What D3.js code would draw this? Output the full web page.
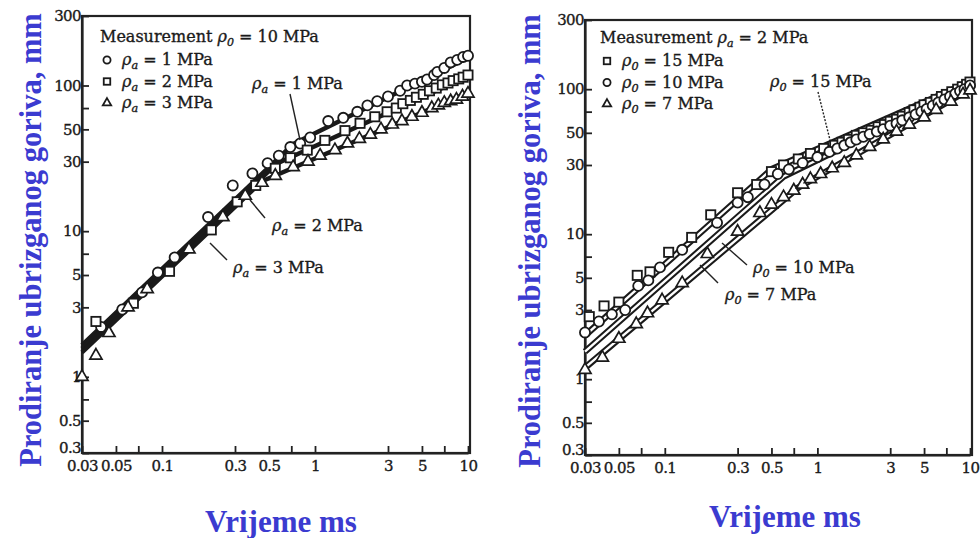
<!DOCTYPE html>
<html><head><meta charset="utf-8">
<script src="https://cdn.jsdelivr.net/npm/d3@7"></script>
<style>html,body{margin:0;padding:0;background:#fff;} svg{display:block;}</style>
</head><body>
<svg id="chart" width="980" height="538"></svg>
<script>
// ---------- data ----------
const xTicks = [0.03,0.05,0.07,0.1,0.3,0.5,0.7,1,3,5,7,10];
const xTickLabels = ["0.03","0.05","","0.1","0.3","0.5","","1","3","5","","10"];
const yTicks = [0.3,0.5,0.7,1,3,5,7,10,30,50,70,100,300];
const yTickLabels = ["0.3","0.5","","1","3","5","","10","30","50","","100","300"];

// Left panel: measurement p0 = 10 MPa, series by pa
const leftPa1 = [[0.04,2.2],[0.055,2.9],[0.074,3.8],[0.094,5.2],[0.121,6.6],[0.2,12.5],[0.29,20.6],[0.39,24.9],[0.49,29.3],[0.58,33],[0.69,37.8],[0.8,40],[0.93,44],[1.22,57],[1.53,60],[1.89,66],[2.2,73],[2.55,78],[3,84],[3.6,92],[4,100],[4.5,103],[5,106],[5.4,110],[6,118],[6.3,124],[7,132],[7.7,144],[8.5,150],[9.3,157],[10,160]];
const leftPa2 = [[0.037,2.4],[0.065,3.2],[0.112,5.3],[0.21,10.2],[0.31,15.9],[0.41,20.6],[0.55,27],[0.69,31.9],[0.89,36],[1.16,42],[1.57,49],[1.97,55],[2.46,61],[2.96,66],[3.4,70],[3.75,75],[4.2,79],[4.6,83],[5.1,87],[5.6,92],[6.2,96],[6.8,101],[7.4,104],[8,108],[8.7,111],[9.3,114],[10,118]];
const leftPa3 = [[0.03,1.0],[0.037,1.4],[0.045,2.0],[0.06,3.0],[0.08,4.0],[0.15,7.5],[0.25,12.5],[0.35,17.5],[0.45,21.5],[0.55,24],[0.72,27.5],[0.9,30],[1.08,33],[1.35,36],[1.63,40],[1.95,43],[2.3,46],[2.7,50],[3.2,54],[3.7,57],[4.3,61],[5,65],[5.8,70],[6.4,73],[7,76],[7.7,78],[8.4,80],[9.2,84],[10,88]];
const leftLine1 = [[0.03,1.65],[0.72,39.6],[10,155]];
const leftLine2 = [[0.03,1.56],[0.56,29],[10,116]];
const leftLine3 = [[0.03,1.47],[0.45,22],[10,89]];

// Right panel: measurement pa = 2 MPa, series by p0
const rightP15 = [[0.032,2.7],[0.04,3.2],[0.05,3.4],[0.066,5.2],[0.08,5.5],[0.106,7.5],[0.15,9.5],[0.2,13.6],[0.3,19.3],[0.4,22],[0.5,27],[0.6,30],[0.75,33],[0.9,36],[1.1,39],[1.3,41],[1.45,43],[1.6,45],[1.8,48],[2,50],[2.25,52],[2.5,55],[2.75,57],[3,60],[3.3,62],[3.6,65],[4,69],[4.3,72],[4.7,75],[5,78],[5.5,81],[6,85],[6.5,89],[7,92],[7.6,96],[8.3,100],[8.9,104],[9.5,108],[10,112]];
const rightP10 = [[0.03,2.1],[0.037,2.5],[0.045,2.8],[0.055,3.0],[0.067,4.4],[0.078,4.8],[0.093,5.9],[0.13,7.8],[0.22,12],[0.3,16.5],[0.35,18],[0.45,22],[0.55,26],[0.65,28],[0.8,31],[1,34],[1.2,37],[1.35,39],[1.5,41],[1.65,43],[1.8,45],[2,47],[2.2,49],[2.45,51],[2.7,53],[3,56],[3.3,58],[3.6,61],[4,64],[4.4,67],[4.8,70],[5.2,73],[5.7,77],[6.2,81],[6.8,85],[7.4,89],[8,93],[8.6,97],[9.2,100],[10,106]];
const rightP7 = [[0.03,1.16],[0.039,1.41],[0.05,1.9],[0.065,2.4],[0.077,2.85],[0.096,3.5],[0.13,4.6],[0.19,7.3],[0.3,10.4],[0.42,14],[0.5,16],[0.6,18],[0.7,20],[0.8,22],[0.9,24],[1.05,26],[1.25,28.5],[1.5,31],[1.8,35],[2.2,40],[2.7,45],[3.3,51],[4,57],[5,64],[6,72],[7.5,82],[9,92],[10,98]];
const rightLine15 = [[0.03,2.0],[0.5,28],[10,112]];
const rightLine10 = [[0.03,1.55],[0.6,25],[10,106]];
const rightLine7 = [[0.03,1.2],[0.75,21],[10,100]];

const yTitle = "Prodiranje ubrizganog goriva, mm";
const xTitle = "Vrijeme ms";

// ---------- drawing ----------
const svg = d3.select("#chart");
const SERIF = "'Liberation Serif','DejaVu Serif',serif";
const PLOT = "'DejaVu Serif','Liberation Serif',serif";
const BLUE = "#3b3bd0";
const INK = "#1a1a1a";
const TXT = 16;

function drawMarker(g, shape, cx, cy, s) {
  if (shape === "circle") {
    g.append("circle").attr("cx", cx).attr("cy", cy).attr("r", s*0.55)
      .attr("fill", "#fff").attr("stroke", INK).attr("stroke-width", 1.8);
  } else if (shape === "square") {
    g.append("rect").attr("x", cx - s*0.5).attr("y", cy - s*0.5).attr("width", s).attr("height", s)
      .attr("fill", "#fff").attr("stroke", INK).attr("stroke-width", 1.8);
  } else {
    g.append("path").attr("transform", `translate(${cx},${cy})`)
      .attr("d", d3.symbol(d3.symbolTriangle, s*s*0.75)())
      .attr("fill", "#fff").attr("stroke", INK).attr("stroke-width", 1.7);
  }
}

function heavy(sel) {
  return sel.attr("stroke", INK).attr("stroke-width", 0.35).attr("paint-order", "stroke");
}

function rhoLabel(g, x, y, sub, rest, size) {
  const t = g.append("text").attr("x", x).attr("y", y)
    .attr("font-family", PLOT).attr("font-size", size).attr("fill", INK);
  heavy(t);
  t.append("tspan").attr("font-style", "italic").text("ρ");
  t.append("tspan").attr("font-style", "italic").attr("font-size", size*0.7).attr("dy", size*0.25).text(sub);
  t.append("tspan").attr("dy", -size*0.25).text(" = " + rest);
  return t;
}

function panel(cfg) {
  const x = d3.scaleLog().domain([0.03, 10]).range([cfg.x0, cfg.x1]);
  const y = d3.scaleLog().domain([0.3, 300]).range([cfg.y0, cfg.y1]);
  const g = svg.append("g");

  // frame
  g.append("rect").attr("x", cfg.x0).attr("y", cfg.y1).attr("width", cfg.x1 - cfg.x0 + 2).attr("height", cfg.y0 - cfg.y1)
    .attr("fill", "none").attr("stroke", "#222").attr("stroke-width", 2.2);

  // axes
  const ax = g.append("g").attr("transform", `translate(0,${cfg.y0})`)
    .call(d3.axisBottom(x).tickValues(xTicks).tickSizeInner(-7).tickSizeOuter(0).tickPadding(7)
      .tickFormat((d, i) => xTickLabels[i]));
  const ay = g.append("g").attr("transform", `translate(${cfg.x0},0)`)
    .call(d3.axisLeft(y).tickValues(yTicks).tickSizeInner(-7).tickSizeOuter(0).tickPadding(1)
      .tickFormat((d, i) => yTickLabels[i]));
  [ax, ay].forEach(a => {
    a.select(".domain").attr("stroke", "#222").attr("stroke-width", 2.2);
    a.selectAll(".tick line").attr("stroke", "#222").attr("stroke-width", 1.8);
    heavy(a.selectAll(".tick text").attr("font-family", PLOT).attr("font-size", 15).attr("fill", INK)
      .attr("letter-spacing", -0.6));
  });
  ay.selectAll(".tick text").filter(d => d === 0.3).attr("dy", "-0.05em");

  // lines
  const line = d3.line().x(d => x(d[0])).y(d => y(d[1]));
  cfg.lines.forEach(L => {
    g.append("path").attr("d", line(L)).attr("fill", "none").attr("stroke", INK)
      .attr("stroke-width", cfg.hollow ? 6.5 : 4.5).attr("stroke-linejoin", "round");
  });
  if (cfg.hollow) {
    cfg.lines.forEach(L => {
      g.append("path").attr("d", line(L)).attr("fill", "none").attr("stroke", "#fff")
        .attr("stroke-width", 2.4).attr("stroke-linejoin", "round");
    });
  }

  // markers
  cfg.series.forEach(S => {
    S.data.forEach(d => drawMarker(g, S.shape, x(d[0]), y(d[1]), 9.2));
  });

  // legend
  const lg = g.append("g");
  const t0 = lg.append("text").attr("x", cfg.legX).attr("y", cfg.legY)
    .attr("font-family", PLOT).attr("font-size", TXT).attr("fill", INK);
  heavy(t0);
  t0.append("tspan").text("Measurement ");
  t0.append("tspan").attr("font-style", "italic").text("ρ");
  t0.append("tspan").attr("font-style", "italic").attr("font-size", 11).attr("dy", 4).text(cfg.measSub);
  t0.append("tspan").attr("dy", -4).text(" = " + cfg.measVal);
  cfg.series.forEach((S, i) => {
    const yy = cfg.legY + 23 + i * 21.5;
    drawMarker(lg, S.shape, cfg.legX + 7, yy - 5, 6.5);
    rhoLabel(lg, cfg.legX + 22, yy, S.sub, S.label, TXT);
  });

  // annotations
  cfg.notes.forEach(n => {
    g.append("line").attr("x1", n.l[0]).attr("y1", n.l[1]).attr("x2", n.l[2]).attr("y2", n.l[3])
      .attr("stroke", "#222").attr("stroke-width", 1.4).attr("stroke-dasharray", n.dash || null);
    rhoLabel(g, n.x, n.y, n.sub, n.label, TXT);
  });

  // titles
  svg.append("text").attr("transform", `translate(${cfg.ytx},${cfg.ytc}) rotate(-90)`)
    .attr("text-anchor", "middle").attr("dominant-baseline", "central")
    .attr("font-family", SERIF).attr("font-weight", "bold")
    .attr("font-size", 30.5).attr("fill", BLUE).text(yTitle);
  svg.append("text").attr("x", cfg.xtx).attr("y", cfg.xty)
    .attr("text-anchor", "middle").attr("font-family", SERIF).attr("font-weight", "bold")
    .attr("font-size", 31).attr("fill", BLUE).text(xTitle);
}

panel({
  x0: 82, x1: 468, y0: 453, y1: 16, hollow: false,
  lines: [leftLine1, leftLine2, leftLine3],
  series: [
    {data: leftPa1, shape: "circle", sub: "a", label: "1 MPa"},
    {data: leftPa2, shape: "square", sub: "a", label: "2 MPa"},
    {data: leftPa3, shape: "triangle", sub: "a", label: "3 MPa"}
  ],
  legX: 100, legY: 42, measSub: "0", measVal: "10 MPa",
  notes: [
    {x: 252, y: 89, sub: "a", label: "1 MPa", l: [290, 94, 300, 140]},
    {x: 272, y: 231, sub: "a", label: "2 MPa", l: [250, 200, 265, 218]},
    {x: 233, y: 273, sub: "a", label: "3 MPa", l: [210, 243, 227, 260]}
  ],
  ytx: 31, ytc: 240, xtx: 281, xty: 532
});

panel({
  x0: 585, x1: 970, y0: 455, y1: 20, hollow: true,
  lines: [rightLine15, rightLine10, rightLine7],
  series: [
    {data: rightP15, shape: "square", sub: "0", label: "15 MPa"},
    {data: rightP10, shape: "circle", sub: "0", label: "10 MPa"},
    {data: rightP7, shape: "triangle", sub: "0", label: "7 MPa"}
  ],
  legX: 600, legY: 43, measSub: "a", measVal: "2 MPa",
  notes: [
    {x: 770, y: 87, sub: "0", label: "15 MPa", l: [818, 92, 830, 140], dash: "2,1.5"},
    {x: 753, y: 273, sub: "0", label: "10 MPa", l: [722, 243, 747, 265]},
    {x: 725, y: 300, sub: "0", label: "7 MPa", l: [700, 265, 718, 283]}
  ],
  ytx: 530, ytc: 241, xtx: 785, xty: 527
});
</script>
</body></html>
